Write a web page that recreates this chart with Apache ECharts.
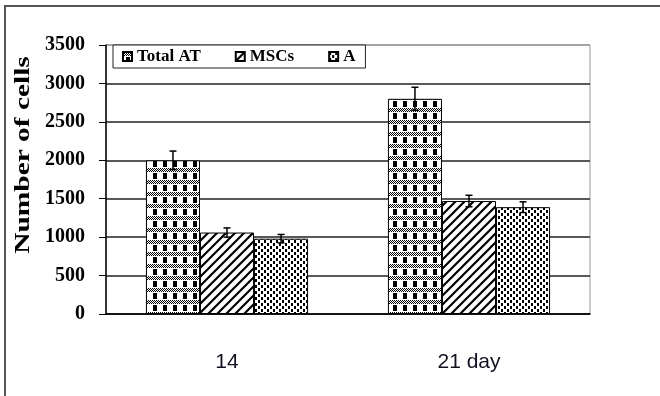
<!DOCTYPE html>
<html>
<head>
<meta charset="utf-8">
<script src="https://cdn.jsdelivr.net/npm/echarts@6/dist/echarts.min.js"></script>
<style>
  html, body { margin: 0; padding: 0; background: #fff; }
  #chart { width: 660px; height: 396px; }
</style>
</head>
<body>
<div id="chart"></div>
<script>
// data
const categories = ["14", "21 day"];
const seriesNames = ["Total AT", "MSCs", "A"];
const totalAT = [2000, 2800];
const mscs = [1060, 1470];
const adipo = [980, 1390];
const totalATErr = [120, 150];
const mscsErr = [60, 75];
const adipoErr = [55, 70];
const yTicks = [0, 500, 1000, 1500, 2000, 2500, 3000, 3500];

// hatch patterns like the old excel fills
function makeTile(w, h, draw) {
  const c = document.createElement("canvas");
  c.width = w;
  c.height = h;
  const ctx = c.getContext("2d");
  ctx.fillStyle = "#fff";
  ctx.fillRect(0, 0, w, h);
  ctx.fillStyle = "#000";
  ctx.strokeStyle = "#000";
  draw(ctx, w, h);
  return { image: c, repeat: "repeat" };
}

const gridFill = makeTile(10, 12, (ctx) => {
  for (let y = 0; y < 4; y++) {
    for (let x = 0; x < 10; x++) {
      if ((x + y) % 2 === 0) ctx.fillRect(x, y, 1, 1);
    }
  }
  ctx.fillRect(3, 5, 4, 6);
});

const stripeFill = makeTile(9, 9, (ctx, w, h) => {
  ctx.lineWidth = 2.2;
  ctx.beginPath();
  ctx.moveTo(-1, h + 1);
  ctx.lineTo(w + 1, -1);
  ctx.moveTo(-2, 2);
  ctx.lineTo(2, -2);
  ctx.moveTo(w - 2, h + 2);
  ctx.lineTo(w + 2, h - 2);
  ctx.stroke();
});

const dotFill = makeTile(6, 6, (ctx) => {
  ctx.fillRect(0, 0, 2, 3);
  ctx.fillRect(3, 3, 2, 3);
});

const fills = [gridFill, stripeFill, dotFill];
const values = [totalAT, mscs, adipo];
const errs = [totalATErr, mscsErr, adipoErr];
const catGap = 0.33;

const errData = [];
values.forEach((arr, s) => {
  arr.forEach((v, i) => errData.push([i, v, errs[s][i], s]));
});

const chart = echarts.init(document.getElementById("chart"));

const option = {
  animation: false,
  backgroundColor: "#fff",
  graphic: [
    {
      type: "rect",
      shape: { x: 5, y: 6, width: 720, height: 440 },
      style: { fill: null, stroke: "#555", lineWidth: 2 },
      silent: true,
    },
    {
      type: "text",
      x: 24,
      y: 155,
      rotation: Math.PI / 2,
      scaleX: 1.4,
      style: {
        text: "Number of cells",
        fontFamily: "Liberation Serif",
        fontWeight: "bold",
        fontSize: 21,
        fill: "#000",
        align: "center",
        verticalAlign: "middle",
      },
    },
  ],
  legend: {
    data: seriesNames,
    left: 113,
    top: 45,
    padding: [3, 10, 3, 9],
    itemGap: 34,
    itemWidth: 9,
    itemHeight: 9,
    icon: "rect",
    backgroundColor: "#fff",
    borderColor: "#222",
    borderWidth: 1,
    textStyle: {
      fontFamily: "Liberation Serif",
      fontWeight: "bold",
      fontSize: 17,
      color: "#000",
    },
  },
  grid: {
    left: 106,
    right: 70,
    top: 45,
    bottom: 82,
    show: true,
    borderColor: "#999",
    borderWidth: 1,
    backgroundColor: "transparent",
  },
  xAxis: {
    type: "category",
    data: categories,
    axisLine: { lineStyle: { color: "#000", width: 1.5 } },
    axisTick: { length: 9, lineStyle: { color: "#333" } },
    axisLabel: {
      margin: 38,
      fontFamily: "Liberation Sans",
      fontSize: 21,
      color: "#111122",
    },
  },
  yAxis: {
    type: "value",
    min: yTicks[0],
    max: yTicks[yTicks.length - 1],
    interval: 500,
    axisLine: { show: true, lineStyle: { color: "#000", width: 1.5 } },
    axisTick: { show: true, length: 7, lineStyle: { color: "#000" } },
    axisLabel: {
      margin: 21,
      formatter: (v) => String(v),
      fontFamily: "Liberation Serif",
      fontWeight: "bold",
      fontSize: 20,
      color: "#000",
    },
    splitLine: {
      show: true,
      lineStyle: {
        color: ["#222", "#222", "#222", "#222", "#222", "#222", "#222", "#999"],
        width: 1.6,
      },
    },
  },
  series: [
    ...seriesNames.map((name, s) => ({
      name: name,
      type: "bar",
      data: values[s],
      barGap: "0%",
      barCategoryGap: catGap * 100 + "%",
      itemStyle: { color: fills[s], borderColor: "#000", borderWidth: 1 },
    })),
    {
      name: "error",
      type: "custom",
      data: errData,
      z: 5,
      renderItem: function (params, api) {
        const cat = api.value(0);
        const val = api.value(1);
        const err = api.value(2);
        const s = api.value(3);
        const band = api.size([1, 0])[0];
        const bw = (band * (1 - catGap)) / 3;
        const x = api.coord([cat, 0])[0] + (s - 1) * bw;
        const yTop = api.coord([cat, val + err])[1];
        const yBot = api.coord([cat, val - err])[1];
        const half = 3.5;
        const st = { stroke: "#000", lineWidth: 1.5 };
        return {
          type: "group",
          children: [
            { type: "line", shape: { x1: x, y1: yTop, x2: x, y2: yBot }, style: st },
            { type: "line", shape: { x1: x - half, y1: yTop, x2: x + half, y2: yTop }, style: st },
            { type: "line", shape: { x1: x - half, y1: yBot, x2: x + half, y2: yBot }, style: st },
          ],
        };
      },
    },
  ],
};

chart.setOption(option);
</script>
</body>
</html>
